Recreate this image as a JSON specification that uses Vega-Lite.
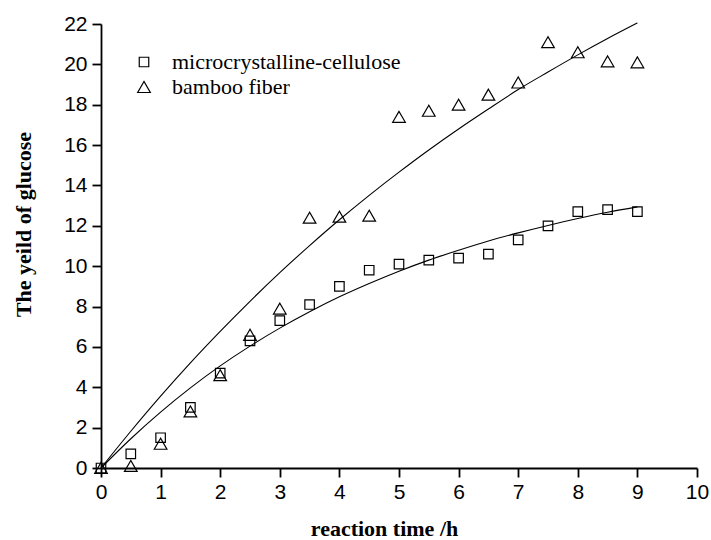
{
  "$schema": "https://vega.github.io/schema/vega-lite/v6.json",
  "autosize": "none",
  "width": 596,
  "height": 444,
  "padding": {"left": 101, "top": 24, "right": 14, "bottom": 72},
  "background": "white",
  "config": {
    "view": {"stroke": null},
    "axis": {
      "grid": false,
      "domainColor": "black",
      "domainWidth": 1.8,
      "tickColor": "black",
      "tickWidth": 1.8,
      "labelFont": "Liberation Sans",
      "labelFontSize": 21,
      "labelColor": "black",
      "titleFont": "Liberation Serif",
      "titleFontSize": 22,
      "titleFontWeight": "bold",
      "titleColor": "black"
    },
    "legend": {
      "labelFont": "Liberation Serif",
      "labelFontSize": 22,
      "labelColor": "black",
      "labelLimit": 0
    }
  },
  "datasets": {
    "measured": [
      {"t": 0, "yield": 0, "series": "microcrystalline-cellulose"},
      {"t": 0.5, "yield": 0.7, "series": "microcrystalline-cellulose"},
      {"t": 1, "yield": 1.5, "series": "microcrystalline-cellulose"},
      {"t": 1.5, "yield": 3.0, "series": "microcrystalline-cellulose"},
      {"t": 2, "yield": 4.7, "series": "microcrystalline-cellulose"},
      {"t": 2.5, "yield": 6.3, "series": "microcrystalline-cellulose"},
      {"t": 3, "yield": 7.3, "series": "microcrystalline-cellulose"},
      {"t": 3.5, "yield": 8.1, "series": "microcrystalline-cellulose"},
      {"t": 4, "yield": 9.0, "series": "microcrystalline-cellulose"},
      {"t": 4.5, "yield": 9.8, "series": "microcrystalline-cellulose"},
      {"t": 5, "yield": 10.1, "series": "microcrystalline-cellulose"},
      {"t": 5.5, "yield": 10.3, "series": "microcrystalline-cellulose"},
      {"t": 6, "yield": 10.4, "series": "microcrystalline-cellulose"},
      {"t": 6.5, "yield": 10.6, "series": "microcrystalline-cellulose"},
      {"t": 7, "yield": 11.3, "series": "microcrystalline-cellulose"},
      {"t": 7.5, "yield": 12.0, "series": "microcrystalline-cellulose"},
      {"t": 8, "yield": 12.7, "series": "microcrystalline-cellulose"},
      {"t": 8.5, "yield": 12.8, "series": "microcrystalline-cellulose"},
      {"t": 9, "yield": 12.7, "series": "microcrystalline-cellulose"},
      {"t": 0, "yield": 0, "series": "bamboo fiber"},
      {"t": 0.5, "yield": 0.1, "series": "bamboo fiber"},
      {"t": 1, "yield": 1.2, "series": "bamboo fiber"},
      {"t": 1.5, "yield": 2.8, "series": "bamboo fiber"},
      {"t": 2, "yield": 4.6, "series": "bamboo fiber"},
      {"t": 2.5, "yield": 6.6, "series": "bamboo fiber"},
      {"t": 3, "yield": 7.9, "series": "bamboo fiber"},
      {"t": 3.5, "yield": 12.4, "series": "bamboo fiber"},
      {"t": 4, "yield": 12.45, "series": "bamboo fiber"},
      {"t": 4.5, "yield": 12.5, "series": "bamboo fiber"},
      {"t": 5, "yield": 17.4, "series": "bamboo fiber"},
      {"t": 5.5, "yield": 17.7, "series": "bamboo fiber"},
      {"t": 6, "yield": 18.0, "series": "bamboo fiber"},
      {"t": 6.5, "yield": 18.5, "series": "bamboo fiber"},
      {"t": 7, "yield": 19.1, "series": "bamboo fiber"},
      {"t": 7.5, "yield": 21.1, "series": "bamboo fiber"},
      {"t": 8, "yield": 20.6, "series": "bamboo fiber"},
      {"t": 8.5, "yield": 20.15, "series": "bamboo fiber"},
      {"t": 9, "yield": 20.1, "series": "bamboo fiber"}
    ],
    "fitted": [
      {"t": 0, "fit": 0, "series": "microcrystalline-cellulose"},
      {"t": 0.5, "fit": 1.45, "series": "microcrystalline-cellulose"},
      {"t": 1, "fit": 2.77, "series": "microcrystalline-cellulose"},
      {"t": 1.5, "fit": 3.97, "series": "microcrystalline-cellulose"},
      {"t": 2, "fit": 5.06, "series": "microcrystalline-cellulose"},
      {"t": 2.5, "fit": 6.04, "series": "microcrystalline-cellulose"},
      {"t": 3, "fit": 6.93, "series": "microcrystalline-cellulose"},
      {"t": 3.5, "fit": 7.74, "series": "microcrystalline-cellulose"},
      {"t": 4, "fit": 8.48, "series": "microcrystalline-cellulose"},
      {"t": 4.5, "fit": 9.14, "series": "microcrystalline-cellulose"},
      {"t": 5, "fit": 9.75, "series": "microcrystalline-cellulose"},
      {"t": 5.5, "fit": 10.3, "series": "microcrystalline-cellulose"},
      {"t": 6, "fit": 10.79, "series": "microcrystalline-cellulose"},
      {"t": 6.5, "fit": 11.25, "series": "microcrystalline-cellulose"},
      {"t": 7, "fit": 11.65, "series": "microcrystalline-cellulose"},
      {"t": 7.5, "fit": 12.02, "series": "microcrystalline-cellulose"},
      {"t": 8, "fit": 12.36, "series": "microcrystalline-cellulose"},
      {"t": 8.5, "fit": 12.67, "series": "microcrystalline-cellulose"},
      {"t": 9, "fit": 12.94, "series": "microcrystalline-cellulose"},
      {"t": 0, "fit": 0, "series": "bamboo fiber"},
      {"t": 0.5, "fit": 1.82, "series": "bamboo fiber"},
      {"t": 1, "fit": 3.56, "series": "bamboo fiber"},
      {"t": 1.5, "fit": 5.21, "series": "bamboo fiber"},
      {"t": 2, "fit": 6.77, "series": "bamboo fiber"},
      {"t": 2.5, "fit": 8.26, "series": "bamboo fiber"},
      {"t": 3, "fit": 9.68, "series": "bamboo fiber"},
      {"t": 3.5, "fit": 11.02, "series": "bamboo fiber"},
      {"t": 4, "fit": 12.3, "series": "bamboo fiber"},
      {"t": 4.5, "fit": 13.51, "series": "bamboo fiber"},
      {"t": 5, "fit": 14.66, "series": "bamboo fiber"},
      {"t": 5.5, "fit": 15.76, "series": "bamboo fiber"},
      {"t": 6, "fit": 16.8, "series": "bamboo fiber"},
      {"t": 6.5, "fit": 17.79, "series": "bamboo fiber"},
      {"t": 7, "fit": 18.75, "series": "bamboo fiber"},
      {"t": 7.5, "fit": 19.62, "series": "bamboo fiber"},
      {"t": 8, "fit": 20.47, "series": "bamboo fiber"},
      {"t": 8.5, "fit": 21.28, "series": "bamboo fiber"},
      {"t": 9, "fit": 22.05, "series": "bamboo fiber"}
    ]
  },
  "layer": [
    {
      "data": {"name": "fitted"},
      "mark": {"type": "line", "color": "black", "strokeWidth": 1.1, "interpolate": "monotone"},
      "encoding": {
        "x": {
          "field": "t", "type": "quantitative",
          "scale": {"domain": [0, 10], "nice": false},
          "axis": {
            "title": "reaction time /h",
            "values": [0, 0.5, 1, 1.5, 2, 2.5, 3, 3.5, 4, 4.5, 5, 5.5, 6, 6.5, 7, 7.5, 8, 8.5, 9, 9.5, 10],
            "labelExpr": "datum.value % 1 ? '' : format(datum.value, 'd')",
            "tickSize": {"condition": {"test": "datum.value % 1", "value": 5}, "value": 9},
            "labelPadding": 4,
            "labelFlush": false,
            "titleX": 283,
            "titleY": 67,
            "titleBaseline": "alphabetic"
          }
        },
        "y": {
          "field": "fit", "type": "quantitative",
          "scale": {"domain": [0, 22], "nice": false},
          "axis": {
            "title": "The yeild of glucose",
            "values": [0, 1, 2, 3, 4, 5, 6, 7, 8, 9, 10, 11, 12, 13, 14, 15, 16, 17, 18, 19, 20, 21, 22],
            "labelExpr": "datum.value % 2 ? '' : format(datum.value, 'd')",
            "tickSize": {"condition": {"test": "datum.value % 2", "value": 5}, "value": 9},
            "labelPadding": 5,
            "labelFlush": false,
            "titleX": -71,
            "titleY": 200,
            "titleBaseline": "alphabetic"
          }
        },
        "detail": {"field": "series", "type": "nominal"}
      }
    },
    {
      "data": {"name": "measured"},
      "mark": {"type": "point", "filled": false, "color": "black", "strokeWidth": 1.2, "opacity": 1},
      "encoding": {
        "x": {"field": "t", "type": "quantitative"},
        "y": {"field": "yield", "type": "quantitative"},
        "shape": {
          "field": "series", "type": "nominal",
          "scale": {"domain": ["microcrystalline-cellulose", "bamboo fiber"], "range": ["square", "triangle-up"]},
          "legend": {
            "title": null,
            "orient": "none",
            "legendX": 32,
            "legendY": 27,
            "padding": 0,
            "labelOffset": 17,
            "rowPadding": 3,
            "symbolStrokeColor": "black",
            "symbolStrokeWidth": 1.2,
            "symbolFillColor": "transparent"
          }
        },
        "size": {
          "field": "series", "type": "nominal",
          "scale": {"domain": ["microcrystalline-cellulose", "bamboo fiber"], "range": [90, 160]}
        }
      }
    }
  ]
}
